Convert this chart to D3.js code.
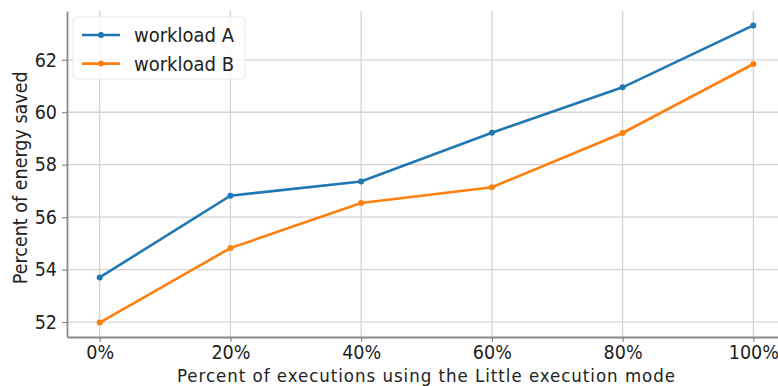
<!DOCTYPE html>
<html>
<head>
<meta charset="utf-8">
<script src="https://cdn.jsdelivr.net/npm/d3@7"></script>
<style>
  body { margin: 0; background: #fff; }
  text { font-family: "DejaVu Sans Condensed", "DejaVu Sans", sans-serif; fill: #222; }
</style>
</head>
<body>
<svg id="chart" width="778" height="386"></svg>
<script>
var xValues = [0, 20, 40, 60, 80, 100];
var workloadA = [53.70, 56.82, 57.36, 59.22, 60.95, 63.31];
var workloadB = [51.98, 54.82, 56.54, 57.14, 59.21, 61.84];
var yTicks = [52, 54, 56, 58, 60, 62];
var seriesNames = ['workload A', 'workload B'];
var seriesColors = ['#1f77b4', '#ff7f0e'];

var margin = {top: 11, right: -8, bottom: 49, left: 67},
    width = 778 - margin.left - margin.right,
    height = 386 - margin.top - margin.bottom;

var svg = d3.select('#chart');
var g = svg.append('g').attr('transform', 'translate(' + margin.left + ',' + margin.top + ')');

var x = d3.scaleLinear().domain([-5, 105]).range([0, width]);
var y = d3.scaleLinear().domain([51.43, 63.86]).range([height, 0]);

// grid
g.append('g').selectAll('line.vg')
    .data(xValues).enter().append('line')
    .attr('x1', function (d) { return x(d); }).attr('x2', function (d) { return x(d); })
    .attr('y1', 0).attr('y2', height)
    .style('stroke', '#d4d4d4').style('stroke-width', 1.3);
g.append('g').selectAll('line.hg')
    .data(yTicks).enter().append('line')
    .attr('x1', 0).attr('x2', width)
    .attr('y1', function (d) { return y(d); }).attr('y2', function (d) { return y(d); })
    .style('stroke', '#d4d4d4').style('stroke-width', 1.3);

// axes
var xAxis = g.append('g').attr('transform', 'translate(0,' + height + ')')
    .call(d3.axisBottom(x).tickValues(xValues).tickFormat(function (d) { return d + '%'; }).tickSize(5).tickPadding(3).tickSizeOuter(0));
var yAxis = g.append('g')
    .call(d3.axisLeft(y).tickValues(yTicks).tickSize(5).tickPadding(5).tickSizeOuter(0));
[xAxis, yAxis].forEach(function (ax) {
    ax.select('.domain').style('stroke', '#8a8a8a').style('stroke-width', 1.8);
    ax.selectAll('.tick line').style('stroke', '#8a8a8a').style('stroke-width', 1.2);
    ax.selectAll('.tick text').style('font-size', '19.5px').style('fill', '#222');
});

// lines
var line = d3.line()
    .x(function (d, i) { return x(xValues[i]); })
    .y(function (d) { return y(d); });
[workloadA, workloadB].forEach(function (vals, k) {
    g.append('path').datum(vals)
        .attr('d', line)
        .style('fill', 'none')
        .style('stroke', seriesColors[k])
        .style('stroke-width', 2.6);
    g.selectAll('.dot' + k).data(vals).enter().append('circle')
        .attr('cx', function (d, i) { return x(xValues[i]); })
        .attr('cy', function (d) { return y(d); })
        .attr('r', 3)
        .style('fill', seriesColors[k]);
});

// legend
var legend = g.append('g').attr('transform', 'translate(6,6)');
legend.append('rect')
    .attr('width', 172).attr('height', 62).attr('rx', 4)
    .style('fill', 'rgba(255,255,255,0.85)').style('stroke', '#e8e8e8');
seriesNames.forEach(function (name, k) {
    var ly = 18 + k * 28.6;
    legend.append('line').attr('x1', 9).attr('x2', 47).attr('y1', ly).attr('y2', ly)
        .style('stroke', seriesColors[k]).style('stroke-width', 2.6);
    legend.append('circle').attr('cx', 28).attr('cy', ly).attr('r', 3).style('fill', seriesColors[k]);
    legend.append('text').attr('x', 61).attr('y', ly).attr('dy', '0.35em')
        .style('font-size', '20px').text(name);
});

// labels
svg.append('text')
    .attr('x', 426).attr('y', 381.5)
    .attr('text-anchor', 'middle').style('font-size', '18.5px')
    .attr('textLength', 498)
    .text('Percent of executions using the Little execution mode');
svg.append('text')
    .attr('transform', 'translate(27,' + (margin.top + y(57.5)) + ') rotate(-90)')
    .attr('text-anchor', 'middle').style('font-size', '19.5px')
    .text('Percent of energy saved');
</script>
</body>
</html>
